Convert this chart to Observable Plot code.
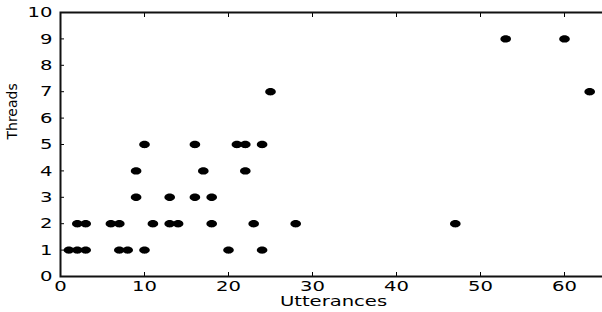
<!DOCTYPE html>
<html>
<head>
<meta charset="utf-8">
<script src="https://cdn.jsdelivr.net/npm/d3@7"></script>
<script src="https://cdn.jsdelivr.net/npm/@observablehq/plot@0.6"></script>
<style>
  html, body { margin: 0; padding: 0; background: #fff; }
  svg { display: block; }
</style>
</head>
<body>
<div id="chart"></div>
<script>
const utterances = [1,2,3,7,8,10,20,24, 2,3,6,7,11,13,14,18,23,28,47, 9,13,16,18, 9,17,22, 10,16,21,22,24, 25,63, 53,60];
const threads    = [1,1,1,1,1,1,1,1, 2,2,2,2,2,2,2,2,2,2,2, 3,3,3,3, 4,4,4, 5,5,5,5,5, 7,7, 9,9];
const xTicks = [0,10,20,30,40,50,60];
const yTicks = [0,1,2,3,4,5,6,7,8,9,10];
const xLabel = "Utterances";
const yLabel = "Threads";

const data = utterances.map((u, i) => ({u, t: threads[i]}));

const ellipse = {
  draw(ctx) {
    const rx = 5.3, ry = 3.7, k = 0.5523;
    ctx.moveTo(rx, 0);
    ctx.bezierCurveTo(rx, ry * k, rx * k, ry, 0, ry);
    ctx.bezierCurveTo(-rx * k, ry, -rx, ry * k, -rx, 0);
    ctx.bezierCurveTo(-rx, -ry * k, -rx * k, -ry, 0, -ry);
    ctx.bezierCurveTo(rx * k, -ry, rx, -ry * k, rx, 0);
    ctx.closePath();
  }
};

const chart = Plot.plot({
  width: 602,
  height: 312,
  marginLeft: 60,
  marginRight: -4,
  marginTop: 12,
  marginBottom: 36,
  style: {fontFamily: "DejaVu Sans", fontSize: "14.5px", color: "#000", background: "#fff"},
  x: {domain: [0, 65]},
  y: {domain: [0, 10]},
  marks: [
    Plot.axisX({ticks: xTicks, tickSize: 0, tickPadding: 4, tickFormat: d => String(d), label: null, anchor: "bottom", fontSize: 14.5}),
    Plot.axisX({ticks: xTicks, tickSize: -4, text: null, label: null, anchor: "bottom"}),
    Plot.axisX({ticks: xTicks, tickSize: -4, text: null, label: null, anchor: "top"}),
    Plot.axisY({ticks: yTicks, tickSize: 0, tickPadding: 8, tickFormat: d => String(d), label: null, anchor: "left", fontSize: 14.5}),
    Plot.axisY({ticks: yTicks, tickSize: -4, text: null, label: null, anchor: "left"}),
    Plot.axisY({ticks: yTicks, tickSize: -5, text: null, label: null, anchor: "right"}),
    Plot.frame({stroke: "#111", strokeWidth: 2}),
    Plot.dot(data, {x: "u", y: "t", symbol: ellipse, fill: "#000", stroke: "none"}),
    Plot.text([xLabel], {frameAnchor: "bottom", dy: 29, fontSize: 14.5, fill: "#000"}),
    Plot.text([yLabel], {frameAnchor: "left", dx: -48, dy: -5, rotate: -90, fontSize: 14, fill: "#000"})
  ]
});
document.getElementById("chart").appendChild(chart);

// horizontal stretch of horizontal texts, like the reference
chart.querySelectorAll("text").forEach(t => {
  if ((t.getAttribute("transform") || "").includes("rotate")) return;
  const g = t.closest("g");
  if (g && (g.getAttribute("transform") || "").includes("rotate")) return;
  const w = t.getComputedTextLength();
  if (w > 0) {
    t.setAttribute("textLength", (w * 1.35).toFixed(1));
    t.setAttribute("lengthAdjust", "spacingAndGlyphs");
  }
});
</script>
</body>
</html>
